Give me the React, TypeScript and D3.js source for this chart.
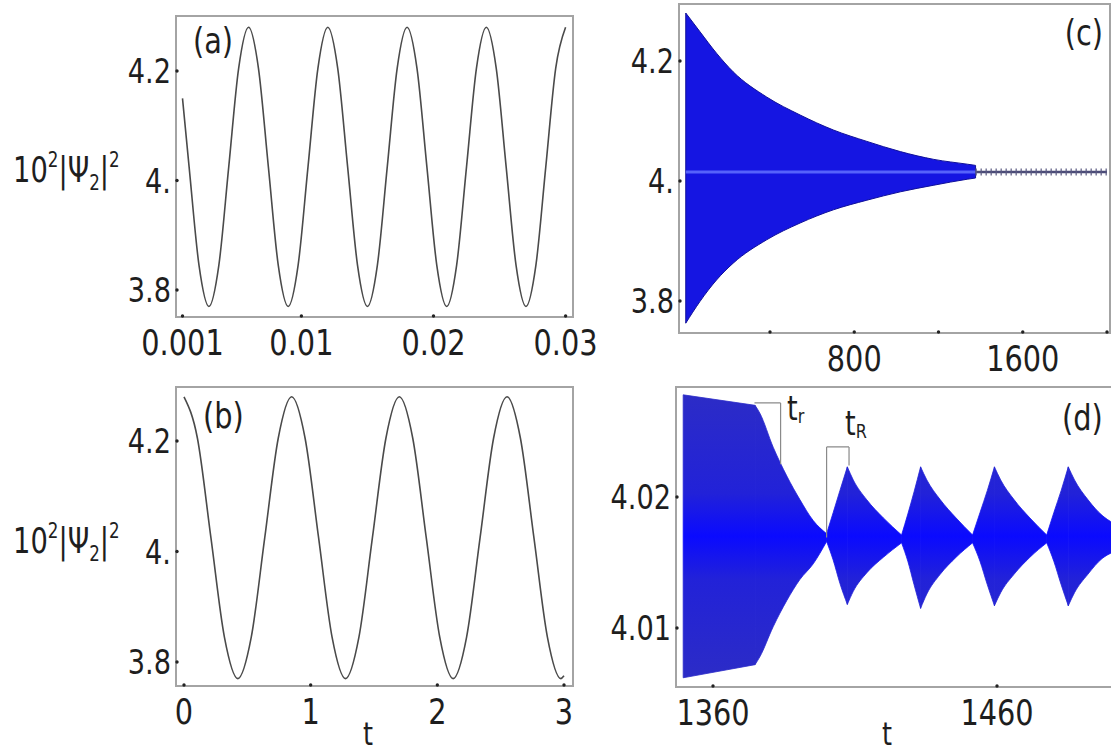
import React from 'react';
import * as d3 from 'd3';

// ---------- data ----------
const tA = [0.001, 0.0015, 0.00225, 0.003, 0.00375, 0.0045, 0.00525, 0.006, 0.00675, 0.0075, 0.00825, 0.009, 0.00975, 0.0105, 0.01125, 0.012, 0.01275, 0.0135, 0.01425, 0.015, 0.01575, 0.0165, 0.01725, 0.018, 0.01875, 0.0195, 0.02025, 0.021, 0.02175, 0.0225, 0.02325, 0.024, 0.02475, 0.0255, 0.02625, 0.027, 0.02775, 0.0285, 0.02925, 0.03];
const vA = [4.15, 4.025, 3.845, 3.77, 3.845, 4.025, 4.205, 4.28, 4.205, 4.025, 3.845, 3.77, 3.845, 4.025, 4.205, 4.28, 4.205, 4.025, 3.845, 3.77, 3.845, 4.025, 4.205, 4.28, 4.205, 4.025, 3.845, 3.77, 3.845, 4.025, 4.205, 4.28, 4.205, 4.025, 3.845, 3.77, 3.845, 4.025, 4.205, 4.28];

const tB = [0, 0.106, 0.2125, 0.319, 0.425, 0.531, 0.6375, 0.744, 0.85, 0.956, 1.0625, 1.169, 1.275, 1.381, 1.4875, 1.594, 1.7, 1.806, 1.9125, 2.019, 2.125, 2.231, 2.3375, 2.444, 2.55, 2.656, 2.7625, 2.869, 2.975, 3.0];
const vB = [4.28, 4.205, 4.025, 3.845, 3.77, 3.845, 4.025, 4.205, 4.28, 4.205, 4.025, 3.845, 3.77, 3.845, 4.025, 4.205, 4.28, 4.205, 4.025, 3.845, 3.77, 3.845, 4.025, 4.205, 4.28, 4.205, 4.025, 3.845, 3.77, 3.775];

const tC = [0, 67, 146, 225, 384, 543, 701, 860, 1019, 1178, 1337, 1376];
const upC = [4.28, 4.249, 4.213, 4.182, 4.14, 4.11, 4.085, 4.066, 4.049, 4.036, 4.028, 4.026];
const loC = [3.763, 3.799, 3.835, 3.863, 3.902, 3.93, 3.952, 3.968, 3.982, 3.993, 4.003, 4.005];
const tailTC = [1376, 2000];
const tailVC = [4.015, 4.015];

const tD = [1349.5, 1374.8, 1376.5, 1381.2, 1386.0, 1390.6, 1395.3, 1400.0,
  1402.3, 1404.7, 1407.3, 1409.4, 1414.1, 1420.0, 1426.4,
  1428.6, 1430.8, 1433.1, 1435.3, 1440.0, 1445.6, 1451.4,
  1454.0, 1456.6, 1459.1, 1461.3, 1466.0, 1471.6, 1477.5,
  1480.0, 1482.6, 1485.1, 1487.3, 1492.0, 1497.0, 1501.0];
const upD = [4.0278, 4.027, 4.0264, 4.0238, 4.0216, 4.0198, 4.0182, 4.0172,
  4.0188, 4.0205, 4.0223, 4.0213, 4.0198, 4.0184, 4.0171,
  4.0187, 4.0204, 4.0223, 4.0213, 4.0198, 4.0184, 4.0171,
  4.0188, 4.0205, 4.0223, 4.0213, 4.0198, 4.0184, 4.0171,
  4.0188, 4.0205, 4.0223, 4.0213, 4.0198, 4.0186, 4.018];
const loD = [4.0062, 4.0072, 4.0078, 4.0101, 4.0121, 4.0137, 4.0149, 4.0166,
  4.0152, 4.0134, 4.0118, 4.0128, 4.0142, 4.0154, 4.0165,
  4.0151, 4.0133, 4.0115, 4.0126, 4.0141, 4.0154, 4.0165,
  4.0151, 4.0133, 4.0117, 4.0127, 4.0141, 4.0154, 4.0165,
  4.0151, 4.0133, 4.0117, 4.0127, 4.0141, 4.0153, 4.0158];
const kinksD = [1374.8, 1400.0, 1407.3, 1426.4, 1433.1, 1451.4, 1459.1, 1477.5, 1485.1];

// annotations in (d)
const trBracket = { t0: 1374.6, t1: 1383.8, v: 4.02718, leftTo: null as number | null, rightTo: 4.0225 };
const tRBracket = { t0: 1400.0, t1: 1407.9, v: 4.02382, leftTo: 4.0169 as number | null, rightTo: 4.0224 };

const aXTicks = [0.001, 0.01, 0.02, 0.03];
const aXLabels = ['0.001', '0.01', '0.02', '0.03'];
const bXTicks = [0, 1, 2, 3];
const bXLabels = ['0', '1', '2', '3'];
const cXTicks = [400, 800, 1200, 1600, 2000];
const cXLabels = ['', '800', '', '1600', ''];
const dXTicks = [1360, 1460];
const dXLabels = ['1360', '1460'];
const yTicksABC = [3.8, 4.0, 4.2];
const yLabelsABC = ['3.8', '4.', '4.2'];
const dYTicks = [4.01, 4.02];
const dYLabels = ['4.01', '4.02'];

// ---------- layout ----------
const W = 1111, H = 756;
const FONT = 'DejaVu Sans, Verdana, sans-serif';
const SX = 0.8;
const TXT = '#1e1e1e';
const FRAME = '#a4a4a4';

const PA = { x0: 176, x1: 573, y0: 16, y1: 317 };
const PB = { x0: 176, x1: 573, y0: 387, y1: 686 };
const PC = { x0: 679, x1: 1110, y0: 4, y1: 333 };
const PD = { x0: 676, x1: 1116, y0: 387, y1: 687 };

const xA = d3.scaleLinear().domain([0.001, 0.03]).range([182.5, 565.6]);
const yA = d3.scaleLinear().domain([3.8, 4.2]).range([290, 71]);
const xB = d3.scaleLinear().domain([0, 3]).range([184, 564]);
const yB = d3.scaleLinear().domain([3.8, 4.2]).range([662, 441]);
const xC = d3.scaleLinear().domain([400, 2000]).range([770, 1107]);
const yC = d3.scaleLinear().domain([3.8, 4.2]).range([301, 61]);
const xD = d3.scaleLinear().domain([1360, 1460]).range([713, 997]);
const yD = d3.scaleLinear().domain([4.01, 4.02]).range([628, 497]);

function Label({ x, y, text, size, anchor = 'start', fill = TXT }: any) {
  return (
    <text transform={`translate(${x},${y}) scale(${SX},1)`} fontSize={size} fontFamily={FONT} textAnchor={anchor} fill={fill}>
      {text}
    </text>
  );
}

function Frame({ p, xs, ys, xt, xl, yt, yl }: any) {
  return (
    <g>
      <rect x={p.x0} y={p.y0} width={p.x1 - p.x0} height={p.y1 - p.y0} fill="none" stroke={FRAME} strokeWidth={2} />
      {xt.map((t: number, i: number) => (
        <g key={'x' + i}>
          <circle cx={xs(t)} cy={p.y1 - 1} r={1.7} fill="#222" />
          {xl[i] ? <Label x={xs(t)} y={p.y1 + 38} text={xl[i]} size={36} anchor="middle" /> : null}
        </g>
      ))}
      {yt.map((t: number, i: number) => (
        <g key={'y' + i}>
          <circle cx={p.x0 + 1} cy={ys(t)} r={1.7} fill="#222" />
          <Label x={p.x0 - 5} y={ys(t) + 12} text={yl[i]} size={34} anchor="end" />
        </g>
      ))}
    </g>
  );
}

function YTitle({ x, y }: any) {
  return (
    <text transform={`translate(${x},${y}) scale(0.76,1)`} fontSize={36} fontFamily={FONT} fill={TXT}>
      <tspan>10</tspan>
      <tspan fontSize={22} dy={-15}>2</tspan>
      <tspan dy={15}>|Ψ</tspan>
      <tspan fontSize={22} dy={8}>2</tspan>
      <tspan dy={-8}>|</tspan>
      <tspan fontSize={22} dy={-15}>2</tspan>
    </text>
  );
}

export default function App() {
  const lineA = d3.line<number>().x((_, i) => xA(tA[i])).y((v) => yA(v)).curve(d3.curveMonotoneX)(vA) || '';
  const lineB = d3.line<number>().x((_, i) => xB(tB[i])).y((v) => yB(v)).curve(d3.curveMonotoneX)(vB) || '';

  const areaC = d3.area<number>().x((i) => xC(tC[i])).y0((i) => yC(loC[i])).y1((i) => yC(upC[i])).curve(d3.curveMonotoneX)(tC.map((_, i) => i)) || '';
  const tailC = d3.line<number>().x((i) => xC(tailTC[i])).y((i) => yC(tailVC[i]))(tailTC.map((_, i) => i)) || '';
  const centerC = d3.line<number>().x((t) => xC(t)).y(() => yC(tailVC[0]))([tC[0], tC[tC.length - 1]]) || '';

  // split (d) into monotone segments at kinks
  const kinkIdx = kinksD.map((k) => tD.indexOf(k));
  const bounds = [0, ...kinkIdx, tD.length - 1];
  const segGen = d3.area<number>().x((i) => xD(tD[i])).y0((i) => yD(loD[i])).y1((i) => yD(upD[i])).curve(d3.curveMonotoneX);
  const segsD: string[] = [];
  for (let s = 0; s < bounds.length - 1; s++) {
    const idx = d3.range(bounds[s], bounds[s + 1] + 1);
    segsD.push(segGen(idx) || '');
  }

  const bracket = (b: any) => {
    const xa = xD(b.t0), xb = xD(b.t1), yy = yD(b.v);
    let d = `M${xa},${yy}H${xb}`;
    if (b.rightTo !== null) d += `M${xb},${yy}V${yD(b.rightTo)}`;
    if (b.leftTo !== null) d += `M${xa},${yy}V${yD(b.leftTo)}`;
    return d;
  };

  return (
    <svg width={W} height={H} style={{ position: 'absolute', left: 0, top: 0, background: '#fff' }}>
      <defs>
        <linearGradient id="gD" gradientUnits="userSpaceOnUse" x1={0} x2={0} y1={yD(4.028)} y2={yD(4.006)}>
          <stop offset="0" stopColor="#2c2cc6" />
          <stop offset="0.35" stopColor="#2222d8" />
          <stop offset="0.5" stopColor="#0a0aff" />
          <stop offset="0.65" stopColor="#2222d8" />
          <stop offset="1" stopColor="#2c2cc6" />
        </linearGradient>
        <clipPath id="clipD">
          <rect x={PD.x0} y={PD.y0} width={W - PD.x0} height={PD.y1 - PD.y0} />
        </clipPath>
      </defs>
      <rect x={0} y={0} width={W} height={H} fill="#fff" />

      {/* (a) */}
      <Frame p={PA} xs={xA} ys={yA} xt={aXTicks} xl={aXLabels} yt={yTicksABC} yl={yLabelsABC} />
      <path d={lineA} fill="none" stroke="#4a4a4a" strokeWidth={1.6} />
      <Label x={193} y={53} text="(a)" size={36} />
      <YTitle x={13} y={182} />

      {/* (b) */}
      <Frame p={PB} xs={xB} ys={yB} xt={bXTicks} xl={bXLabels} yt={yTicksABC} yl={yLabelsABC} />
      <path d={lineB} fill="none" stroke="#4a4a4a" strokeWidth={1.6} />
      <Label x={203} y={428} text="(b)" size={36} />
      <YTitle x={13} y={553} />
      <Label x={368} y={745} text="t" size={32} anchor="middle" />

      {/* (c) */}
      <Frame p={PC} xs={xC} ys={yC} xt={cXTicks} xl={cXLabels} yt={yTicksABC} yl={yLabelsABC} />
      <path d={areaC} fill="#1515e2" stroke="#10109a" strokeWidth={1} />
      <path d={centerC} fill="none" stroke="#6270ff" strokeWidth={3} opacity={0.85} />
      <path d={tailC} fill="none" stroke="#4b4b78" strokeWidth={2.5} />
      <path d={tailC} fill="none" stroke="#5a5a80" strokeWidth={7} strokeDasharray="1.2,3.8" />
      <Label x={1103} y={45} text="(c)" size={36} anchor="end" />

      {/* (d) */}
      <Frame p={PD} xs={xD} ys={yD} xt={dXTicks} xl={dXLabels} yt={dYTicks} yl={dYLabels} />
      <g clipPath="url(#clipD)">
        {segsD.map((d, i) => (
          <path key={i} d={d} fill="url(#gD)" stroke="url(#gD)" strokeWidth={0.8} />
        ))}
      </g>
      <path d={bracket(trBracket)} fill="none" stroke="#8a8a8a" strokeWidth={1.2} />
      <path d={bracket(tRBracket)} fill="none" stroke="#8a8a8a" strokeWidth={1.2} />
      <text transform={`translate(787,420) scale(${SX},1)`} fontSize={34} fontFamily={FONT} fill={TXT}>
        <tspan>t</tspan><tspan fontSize={20} dy={3}>r</tspan>
      </text>
      <text transform={`translate(845,435) scale(${SX},1)`} fontSize={34} fontFamily={FONT} fill={TXT}>
        <tspan>t</tspan><tspan fontSize={20} dy={3}>R</tspan>
      </text>
      <Label x={1062} y={430} text="(d)" size={36} />
      <Label x={887} y={745} text="t" size={32} anchor="middle" />
    </svg>
  );
}
